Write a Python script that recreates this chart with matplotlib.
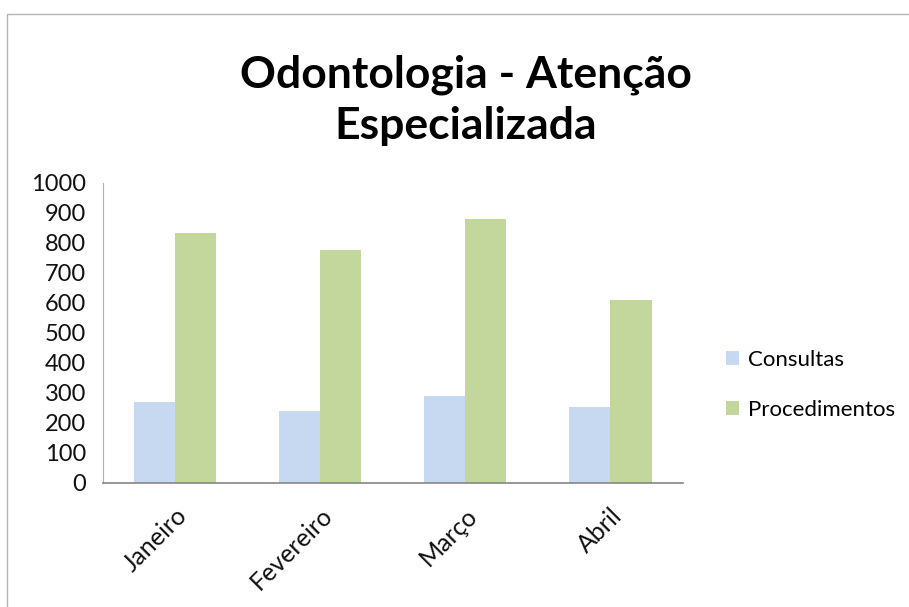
import matplotlib
matplotlib.use("Agg")
import matplotlib.pyplot as plt
import numpy as np
from matplotlib.patches import Rectangle

categories = ["Janeiro", "Fevereiro", "Março", "Abril"]
consultas = [270, 240, 289, 253]
procedimentos = [833, 776, 878, 609]
yticks = [0, 100, 200, 300, 400, 500, 600, 700, 800, 900, 1000]

plt.rcParams['font.family'] = ['Lato', 'DejaVu Sans']

W, H = 909, 607
fig = plt.figure(figsize=(W/100, H/100), dpi=100)
fig.patch.set_facecolor('white')

# outer frame
fig.patches.append(Rectangle((7/W, 0 - 0.1), 1.2, 1 - 14/H + 0.1, transform=fig.transFigure,
                             fill=False, edgecolor='#b4b4b4', linewidth=1.0))

ax = fig.add_axes([102.7/W, 1-482.7/H, (683-102.7)/W, (482.7-182.7)/H])
x = np.arange(len(categories))
w = 0.283
ax.bar(x - w/2, consultas, width=w, color='#C6D9F1', label='Consultas')
ax.bar(x + w/2, procedimentos, width=w, color='#C3D69B', label='Procedimentos')
ax.set_xlim(-0.5, len(categories)-0.5)
ax.set_ylim(0, 1000)
ax.set_yticks(yticks)
ax.set_yticklabels([str(v) for v in yticks], fontsize=17, color='#111111')
ax.set_xticks(x)
ax.set_xticklabels(categories, rotation=45, ha='right', rotation_mode='anchor', fontsize=18, color='#111111')
ax.tick_params(axis='both', length=0)
ax.tick_params(axis='y', pad=12)
ax.tick_params(axis='x', pad=15)
for s in ['top', 'right']:
    ax.spines[s].set_visible(False)
ax.spines['left'].set_color('#b0b0b0')
ax.spines['bottom'].set_color('#868686')
ax.spines['bottom'].set_linewidth(1.2)

fig.text(466/W, 1-75/H, "Odontologia - Atenção", ha='center', va='center', fontsize=32, fontweight='bold')
fig.text(466/W, 1-126/H, "Especializada", ha='center', va='center', fontsize=32, fontweight='bold')

leg = ax.legend(loc='center left', bbox_to_anchor=(706/W, 1-385/H), bbox_transform=fig.transFigure,
                frameon=False, fontsize=16, handlelength=0.6, handleheight=0.6, handletextpad=0.4,
                labelspacing=1.35)

fig.savefig("out.png", dpi=100, facecolor='white')
